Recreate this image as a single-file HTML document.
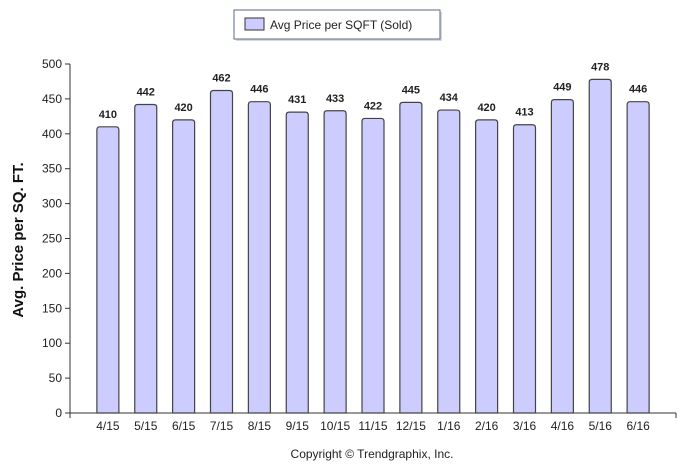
<!DOCTYPE html>
<html><head><meta charset="utf-8"><style>
body{margin:0;background:#fff;width:688px;height:470px;overflow:hidden}
svg{font-family:"Liberation Sans",Arial,sans-serif}
</style></head><body>
<svg id="chart" width="688" height="470">
<g>
<rect x="236" y="12" width="206" height="29" fill="#d8d8d8"/>
<rect x="234" y="10" width="206" height="29" fill="#fff" stroke="#5a6a8a" stroke-width="1"/>
<rect x="245" y="18" width="19" height="12" fill="#ccccff" stroke="#333"/>
<text x="270" y="29" font-size="12" fill="#222">Avg Price per SQFT (Sold)</text>
</g>
<text transform="translate(23,240) rotate(-90)" text-anchor="middle" font-size="15" font-weight="bold" fill="#111">Avg. Price per SQ. FT.</text>
<g id="axes"></g>
<g id="bars"></g>
<text x="372" y="458" text-anchor="middle" font-size="12" fill="#222">Copyright © Trendgraphix, Inc.</text>
</svg>
<script>
const categories=["4/15","5/15","6/15","7/15","8/15","9/15","10/15","11/15","12/15","1/16","2/16","3/16","4/16","5/16","6/16"];
const values=[410,442,420,462,446,431,433,422,445,434,420,413,449,478,446];
const yTicks=[0,50,100,150,200,250,300,350,400,450,500];
const NS="http://www.w3.org/2000/svg";
const x0=70,x1=676,yBase=413,yTop=64,yMax=500;
const slot=(x1-x0)/(categories.length+1);
const xs=i=>x0+(i+1)*slot;
const ys=v=>yBase-(v/yMax)*(yBase-yTop);
function mk(t,a,p){const e=document.createElementNS(NS,t);for(const k in a)e.setAttribute(k,a[k]);p.appendChild(e);return e;}
const ax=document.getElementById('axes'),bg=document.getElementById('bars');
const yl=mk('line',{x1:x0,y1:yTop,x2:x0,y2:yBase,stroke:'#333'},ax);


const xl=mk('line',{x1:x0,y1:yBase,x2:x1,y2:yBase,stroke:'#333'},ax);


mk('line',{x1:x1,y1:yBase,x2:x1,y2:yBase+5,stroke:'#333'},ax);
mk('line',{x1:x0,y1:yBase,x2:x0,y2:yBase+5,stroke:'#333'},ax);
yTicks.forEach(t=>{const y=ys(t);
mk('line',{x1:x0-5,y1:y,x2:x0,y2:y,stroke:'#333'},ax);
const tx=mk('text',{x:x0-8,y:y+4,'text-anchor':'end','font-size':12,fill:'#222'},ax);tx.textContent=t;

});
categories.forEach((c,i)=>{const cx=xs(i),v=values[i],top=ys(v),w=22;
const p=mk('path',{d:`M${cx-w/2},${yBase} V${top+3} Q${cx-w/2},${top} ${cx-w/2+3},${top} H${cx+w/2-3} Q${cx+w/2},${top} ${cx+w/2},${top+3} V${yBase} Z`,fill:'#ccccff',stroke:'#444','stroke-width':1.2},bg);


const vl=mk('text',{x:cx,y:top-9,'text-anchor':'middle','font-size':11,'font-weight':'bold',fill:'#222'},bg);vl.textContent=v;


const xlb=mk('text',{x:cx,y:yBase+17,'text-anchor':'middle','font-size':12,fill:'#222'},bg);xlb.textContent=c;

});
</script>
</body></html>
